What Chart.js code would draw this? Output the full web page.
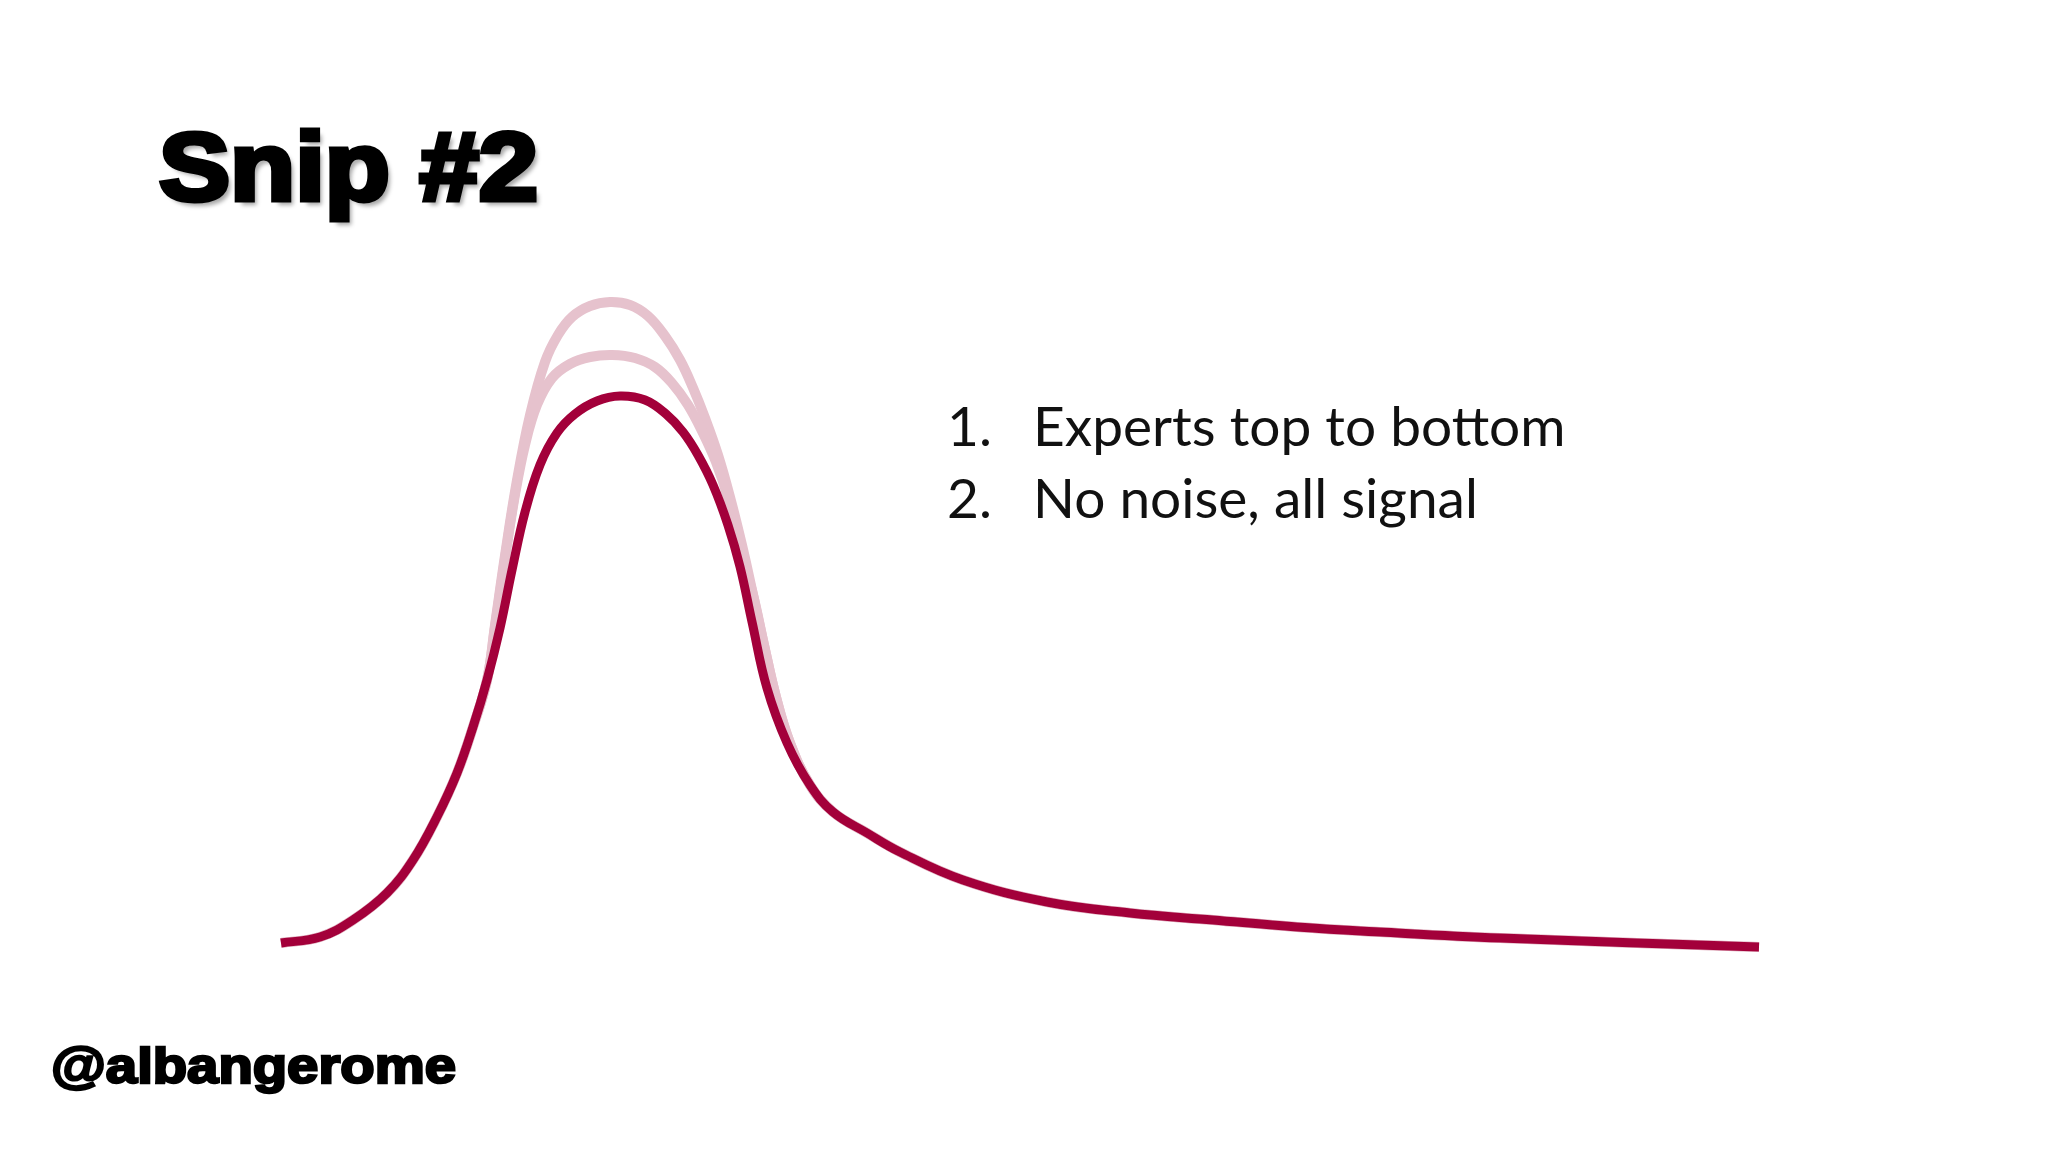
<!DOCTYPE html>
<html>
<head>
<meta charset="utf-8">
<script src="https://cdn.jsdelivr.net/npm/chart.js@4/dist/chart.umd.min.js"></script>
<style>
  html, body { margin: 0; padding: 0; background: #ffffff; }
  body { width: 2048px; height: 1152px; position: relative; overflow: hidden; }
  #chart { position: absolute; left: 0; top: 0; }
  .title {
    position: absolute; left: 159px; top: 119px;
    font-family: "Liberation Sans", Arial, sans-serif; font-weight: 700;
    font-size: 96px; line-height: 96px; color: #000;
    -webkit-text-stroke: 5px #000;
    text-shadow: 4px 5px 4px rgba(0,0,0,0.35);
    transform: scaleX(1.11); transform-origin: left top;
    white-space: nowrap;
  }
  .handle {
    position: absolute; left: 51px; top: 1041px;
    font-family: "Liberation Sans", Arial, sans-serif; font-weight: 700;
    font-size: 50px; line-height: 50px; color: #000;
    -webkit-text-stroke: 2.5px #000;
    transform: scaleX(1.125); transform-origin: left top;
    white-space: nowrap;
  }
  .item {
    position: absolute; font-family: Lato, "Open Sans", sans-serif;
    font-size: 55px; line-height: 72px; color: #111; white-space: nowrap;
  }
</style>
</head>
<body>
<canvas id="chart" width="2048" height="1152"></canvas>
<div class="title">Snip #2</div>
<div class="handle">@albangerome</div>
<div class="item" style="left:947px; top:389px;">1.</div>
<div class="item" style="left:1033px; top:389px;">Experts top to bottom</div>
<div class="item" style="left:947px; top:461px;">2.</div>
<div class="item" style="left:1033px; top:461px;">No noise, all signal</div>
<script>
// Series values (position along the distribution, height of the curve)
const signalX = [0, 2.64, 4.87, 7.17, 8.93, 10.55, 11.91, 12.99, 13.94, 14.82, 15.63, 16.51, 17.52, 18.67, 19.89, 21.38, 22.94, 24.63, 26.05, 27.20, 28.21, 29.23, 30.24, 31.06, 31.87, 32.88, 34.24, 35.79, 37.35, 39.65, 41.88, 46.14, 51.83, 57.44, 63.06, 68.74, 74.36, 82.48, 100];
const signalY = [1.7, 2.3, 4.0, 6.7, 10.0, 14.3, 18.7, 23.3, 28.0, 33.2, 39.0, 44.8, 49.5, 52.7, 54.6, 55.9, 56.4, 56.0, 54.6, 52.8, 50.5, 47.5, 43.5, 39.3, 33.8, 27.2, 21.7, 17.5, 14.8, 12.7, 10.8, 8.0, 5.8, 4.7, 4.0, 3.3, 2.8, 2.2, 1.3];

const expertHighX = [0, 2.64, 4.87, 7.17, 8.93, 10.55, 11.91, 12.99, 13.94, 14.48, 15.16, 15.97, 16.85, 17.86, 18.74, 19.69, 20.91, 22.26, 23.61, 24.83, 25.98, 27.0, 27.88, 28.69, 29.57, 30.38, 31.19, 31.94, 32.68, 33.49, 34.44, 35.79, 37.35, 39.65, 41.88, 46.14, 51.83, 57.44, 63.06, 68.74, 74.36, 82.48, 100];
const expertHighY = [1.7, 2.3, 4.0, 6.7, 10.0, 14.3, 18.7, 23.3, 28.0, 33.5, 40.5, 48.0, 54.5, 59.8, 62.5, 64.3, 65.4, 65.8, 65.5, 64.4, 62.4, 60.0, 57.2, 54.2, 50.5, 46.3, 41.5, 36.5, 31.5, 26.3, 21.7, 17.5, 14.8, 12.7, 10.8, 8.0, 5.8, 4.7, 4.0, 3.3, 2.8, 2.2, 1.3];

const expertMidX = [0, 2.64, 4.87, 7.17, 8.93, 10.55, 11.91, 12.99, 13.94, 14.48, 15.16, 15.83, 16.51, 17.32, 18.34, 19.55, 20.91, 22.40, 23.95, 25.30, 26.45, 27.54, 28.55, 29.43, 30.24, 30.99, 31.94, 32.68, 33.49, 34.44, 35.79, 37.35, 39.65, 41.88, 46.14, 51.83, 57.44, 63.06, 68.74, 74.36, 82.48, 100];
const expertMidY = [1.7, 2.3, 4.0, 6.7, 10.0, 14.3, 18.7, 23.3, 28.0, 33.3, 40.2, 46.5, 51.5, 55.5, 58.2, 59.6, 60.3, 60.5, 60.2, 59.3, 57.7, 55.5, 52.7, 49.8, 46.2, 41.5, 36.5, 31.5, 26.3, 21.7, 17.5, 14.8, 12.7, 10.8, 8.0, 5.8, 4.7, 4.0, 3.3, 2.8, 2.2, 1.3];

const seriesNames = ['Signal', 'Experts (high)', 'Experts (mid)'];

function pts(xs, ys) { return xs.map((x, i) => ({ x: x, y: ys[i] })); }

const common = {
  pointRadius: 0, pointHoverRadius: 0, fill: false,
  tension: 0.4, clip: false,
  borderCapStyle: 'butt', borderJoinStyle: 'round'
};

new Chart(document.getElementById('chart'), {
  type: 'line',
  data: {
    datasets: [
      Object.assign({ label: seriesNames[0], data: pts(signalX, signalY), borderColor: '#A3003A', borderWidth: 9, order: 0 }, common),
      Object.assign({ label: seriesNames[2], data: pts(expertMidX, expertMidY), borderColor: '#E6C2CD', borderWidth: 10, order: 1 }, common),
      Object.assign({ label: seriesNames[1], data: pts(expertHighX, expertHighY), borderColor: '#E6C2CD', borderWidth: 10, order: 2 }, common)
    ]
  },
  options: {
    responsive: false, devicePixelRatio: 1, animation: false,
    layout: { padding: { left: 281, right: 289, top: 260, bottom: 192 } },
    plugins: { legend: { display: false }, title: { display: false }, tooltip: { enabled: false } },
    scales: {
      x: { type: 'linear', min: 0, max: 100, display: false },
      y: { type: 'linear', min: 0, max: 70, display: false }
    }
  }
});
</script>
</body>
</html>
